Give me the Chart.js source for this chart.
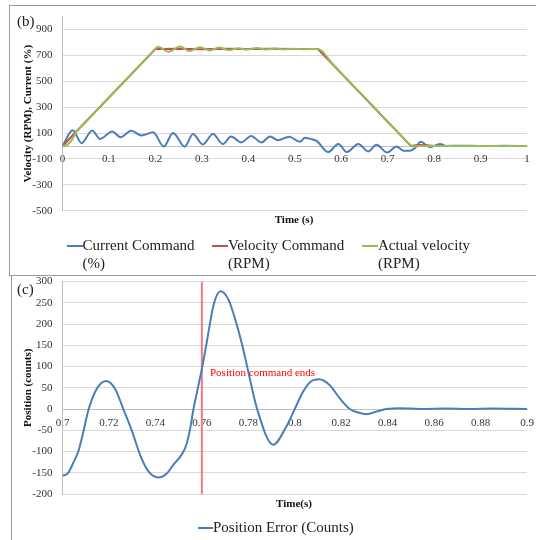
<!DOCTYPE html>
<html>
<head>
<meta charset="utf-8">
<script src="https://cdn.jsdelivr.net/npm/chart.js@4.4.0/dist/chart.umd.min.js"></script>
<style>
  body { margin: 0; background: #fff; }
  #page { position: relative; width: 536px; height: 540px; overflow: hidden; font-family: "Liberation Serif", "Times New Roman", serif; color: #222; }
  canvas { position: absolute; left: 0; }
  .box { position: absolute; border: 1px solid #9a9a9a; pointer-events: none; }
  .txt { position: absolute; white-space: nowrap; }
  .panel { font-size: 15px; line-height: 15px; }
  .axt { font-size: 11px; line-height: 13px; font-weight: bold; transform: translateX(-50%); color: #111; }
  .leg { font-size: 15px; line-height: 18px; }
  .leg .mark { position: absolute; top: 9px; height: 2px; }
</style>
</head>
<body>
<div id="page">
  <canvas id="chartB" width="536" height="272" style="top:0"></canvas>
  <canvas id="chartC" width="536" height="275" style="top:265px"></canvas>

  <div class="box" style="left:9px;top:5px;width:540px;height:269px"></div>
  <div class="box" style="left:11px;top:275px;width:540px;height:300px"></div>

  <div class="txt panel" style="left:17px;top:14px">(b)</div>
  <div class="txt panel" style="left:17px;top:282px">(c)</div>

  <div class="txt axt" style="left:294px;top:213px">Time (s)</div>
  <div class="txt axt" style="left:294px;top:497px">Time(s)</div>

  <div id="legendB"></div>
  <div id="legendC"></div>
</div>

<script>
// ---------- (b) velocity and current ----------
const curTime = [0, 0.022, 0.041, 0.064, 0.081, 0.107, 0.125, 0.148, 0.17, 0.195, 0.218, 0.238, 0.263, 0.281, 0.302, 0.324, 0.345, 0.363, 0.385, 0.406, 0.428, 0.447, 0.464, 0.488, 0.511, 0.522, 0.533, 0.547, 0.572, 0.594, 0.612, 0.637, 0.658, 0.676, 0.699, 0.719, 0.734, 0.748, 0.759, 0.771, 0.791, 0.813, 0.826, 0.85, 0.9, 0.95, 1];
const curValues = [0, 122, 22, 120, 55, 113, 68, 118, 82, 106, -3, 100, -5, 92, 12, 92, 15, 73, 28, 78, 28, 73, 45, 72, 32, 63, 55, 40, -47, 16, -47, 16, -42, 10, -50, -3, -37, -37, -16, 32, -10, 16, 0, 2, 0, 1, 0];

const cmdTime = [0, 0.2, 0.25, 0.3, 0.35, 0.4, 0.45, 0.5, 0.55, 0.75, 0.765, 0.785, 0.8, 1];
const cmdValues = [0, 750, 752, 748, 751, 749, 751, 749, 750, 0, 8, 5, 0, 0];

const actTime = [0, 0.01, 0.02, 0.03, 0.04, 0.07, 0.1, 0.13, 0.16, 0.19, 0.2, 0.206, 0.228, 0.253, 0.273, 0.296, 0.318, 0.337, 0.357, 0.378, 0.398, 0.418, 0.438, 0.458, 0.478, 0.5, 0.52, 0.545, 0.556, 0.58, 0.6, 0.62, 0.65, 0.68, 0.7, 0.72, 0.745, 0.755, 0.77, 1];
const actValues = [0, 8, 45, 110, 150, 262, 375, 487, 600, 712, 752, 767, 728, 768, 733, 764, 738, 762, 741, 755, 745, 757, 746, 753, 747, 752, 748, 750, 742, 640, 565, 485, 378, 265, 185, 115, 20, -4, 0, 0];

const xTicksB = [0, 0.1, 0.2, 0.3, 0.4, 0.5, 0.6, 0.7, 0.8, 0.9, 1];
const yTicksB = [-500, -300, -100, 100, 300, 500, 700, 900];

// ---------- (c) position error ----------
const errTime = [0.7, 0.7024, 0.7046, 0.7068, 0.709, 0.711, 0.714, 0.7165, 0.7187, 0.7226, 0.7262, 0.73, 0.7334, 0.737, 0.7413, 0.745, 0.7478, 0.7507, 0.7521, 0.7535, 0.755, 0.7564, 0.7585, 0.7604, 0.7622, 0.765, 0.768, 0.7715, 0.775, 0.7774, 0.7795, 0.7838, 0.7907, 0.7964, 0.8, 0.8036, 0.8072, 0.8105, 0.8151, 0.8194, 0.8237, 0.8273, 0.8309, 0.8352, 0.8396, 0.845, 0.855, 0.865, 0.875, 0.885, 0.9];
const errValues = [-157, -151, -127, -100, -53, -6, 40, 60, 66, 48, 0, -53, -108, -147, -161, -151, -131, -112, -100, -81, -45, 0, 55, 105, 160, 244, 277, 257, 199, 150, 100, 0, -84, -41, 0, 41, 66, 70, 56, 25, 0, -8, -12, -6, 0, 2, 0, 1, 0, 1, 0];

const cmdEndTime = 0.76;
const noteText = "Position command ends";
const notePos = [0.7635, 85];

const xTicksC = [0.7, 0.72, 0.74, 0.76, 0.78, 0.8, 0.82, 0.84, 0.86, 0.88, 0.9];
const yTicksC = [-200, -150, -100, -50, 0, 50, 100, 150, 200, 250, 300];

// colours
const blue = "#4a7ebb";
const red = "#c0504d";
const green = "#9bbb59";
const grid = "#d9d9d9";

Chart.defaults.font.family = '"Liberation Serif", "Times New Roman", serif';
Chart.defaults.font.size = 11;
Chart.defaults.color = "#333";

function pts(xs, ys) {
  return xs.map((x, i) => ({ x: x, y: ys[i] }));
}

function line(label, data, color, order, smooth) {
  const ds = {
    label: label, data: data, borderColor: color, backgroundColor: color,
    borderWidth: 2, pointRadius: 0, order: order, tension: 0
  };
  if (smooth) ds.cubicInterpolationMode = "monotone";
  return ds;
}

function scalesFor(xMin, xMax, xTicks, yMin, yMax, yTicks, yTitle) {
  return {
    x: {
      type: "linear", min: xMin, max: xMax, position: { y: 0 },
      afterBuildTicks: s => { s.ticks = xTicks.map(v => ({ value: v })); },
      afterFit: s => { s.paddingLeft = 0; s.paddingRight = 0; },
      ticks: { padding: 7, maxRotation: 0, autoSkip: false, callback: v => String(v) },
      grid: { display: false, drawTicks: false },
      border: { color: "#bfbfbf", width: 1 }
    },
    y: {
      min: yMin, max: yMax,
      afterBuildTicks: s => { s.ticks = yTicks.map(v => ({ value: v })); },
      afterFit: s => { s.width = 62.5; },
      ticks: { padding: 10, callback: v => String(v) },
      grid: { color: grid, drawTicks: false },
      border: { color: "#bfbfbf", width: 1 },
      title: { display: true, text: yTitle, color: "#111", font: { weight: "bold", size: 11 }, padding: { top: 22, bottom: 0 } }
    }
  };
}

// ------------------ CHART (b) ------------------ //
new Chart(document.getElementById("chartB"), {
  type: "line",
  data: {
    datasets: [
      line("Current Command (%)", pts(curTime, curValues), blue, 2, true),
      line("Velocity Command (RPM)", pts(cmdTime, cmdValues), red, 1, false),
      line("Actual velocity (RPM)", pts(actTime, actValues), green, 0, true)
    ]
  },
  options: {
    responsive: false, animation: false,
    layout: { padding: { left: 0, right: 9, top: 14.6, bottom: 61.3 } },
    plugins: { legend: { display: false }, tooltip: { enabled: false } },
    scales: scalesFor(0, 1, xTicksB, -500, 1000, yTicksB, "Velocity (RPM), Current (%)")
  }
});

// red note text at data position
const notePlugin = {
  id: "note",
  afterDatasetsDraw(chart) {
    const { ctx, scales } = chart;
    ctx.save();
    ctx.font = '11px "Liberation Serif", serif';
    ctx.fillStyle = "#ff0000";
    ctx.textBaseline = "middle";
    ctx.fillText(noteText, scales.x.getPixelForValue(notePos[0]), scales.y.getPixelForValue(notePos[1]));
    ctx.restore();
  }
};

// ------------------ CHART (c) ------------------ //
new Chart(document.getElementById("chartC"), {
  type: "line",
  data: {
    datasets: [
      line("Position Error (Counts)", pts(errTime, errValues), blue, 0, true),
      {
        label: "command end", data: [{ x: cmdEndTime, y: -200 }, { x: cmdEndTime, y: 300 }],
        borderColor: "#f47a7a", borderWidth: 2, pointRadius: 0, order: 1
      }
    ]
  },
  options: {
    responsive: false, animation: false,
    layout: { padding: { left: 0, right: 9, top: 16, bottom: 46 } },
    plugins: { legend: { display: false }, tooltip: { enabled: false } },
    scales: scalesFor(0.7, 0.9, xTicksC, -200, 300, yTicksC, "Position (counts)")
  },
  plugins: [notePlugin]
});

// ------------------ HTML LEGENDS ------------------ //
function legendItem(parent, left, top, markW, color, lines) {
  const d = document.createElement("div");
  d.className = "txt leg";
  d.style.left = left + "px";
  d.style.top = top + "px";
  d.style.paddingLeft = markW + "px";
  const m = document.createElement("span");
  m.className = "mark";
  m.style.left = "0px";
  m.style.width = markW + "px";
  m.style.background = color;
  d.appendChild(m);
  d.innerHTML += lines.join("<br>");
  parent.appendChild(d);
}

const legB = document.getElementById("legendB");
legendItem(legB, 67, 236, 15.5, blue, ["Current Command", "(%)"]);
legendItem(legB, 212, 236, 16, red, ["Velocity Command", "(RPM)"]);
legendItem(legB, 362, 236, 16, green, ["Actual velocity", "(RPM)"]);

const legC = document.getElementById("legendC");
legendItem(legC, 198, 518, 15, blue, ["Position Error (Counts)"]);
</script>
</body>
</html>
